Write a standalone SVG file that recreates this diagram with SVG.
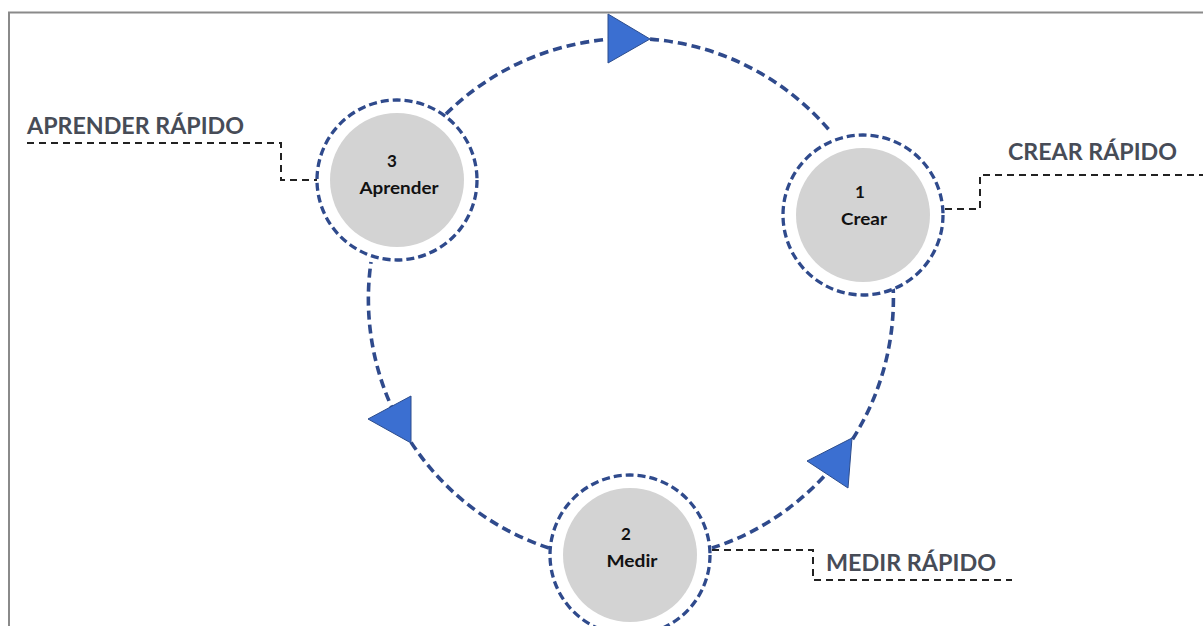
<svg xmlns="http://www.w3.org/2000/svg" width="1203" height="626" viewBox="0 0 1203 626">
  <defs>
    <style>
      .frame { fill: none; stroke: #8a8a8a; stroke-width: 2; }
      .cycle { fill: none; stroke: #2f4a8c; stroke-width: 3.6; stroke-dasharray: 9 5; }
      .ring { fill: #ffffff; stroke: #2f4a8c; stroke-width: 3.3; stroke-dasharray: 8 4; }
      .core { fill: #d3d3d3; }
      .num { font-family: Lato, "Liberation Sans", sans-serif; font-weight: 700; font-size: 17px; fill: #111111; text-anchor: middle; }
      .lead { fill: none; stroke: #222222; stroke-width: 2; stroke-dasharray: 7 5; }
      .label { font-family: Lato, "Liberation Sans", sans-serif; font-weight: 700; font-size: 23px; fill: #474c57; }
      .tri { fill: #3b6fd1; stroke: #2c4c8c; stroke-width: 1; }
    </style>
  </defs>

  <rect width="1203" height="626" fill="#ffffff"/>
  <!-- page frame -->
  <path class="frame" d="M9 626 V12.5 H1203"/>

  <!-- cycle connectors -->
  <g id="connectors">
    <path class="cycle" d="M446 114 A262 262 0 0 1 830 131"/>
    <path class="cycle" d="M893 284 A262 262 0 0 1 712 548"/>
    <path class="cycle" d="M549 548 A262 262 0 0 1 371 262"/>
    <polygon class="tri" points="608,14 650,39 608,63"/>
    <polygon class="tri" points="807,461 852,438 848,488"/>
    <polygon class="tri" points="368,419 411,396 411,443"/>
    <!-- label leaders -->
    <path class="lead" d="M27 143 H281 V180 H317"/>
    <path class="lead" d="M945 209 H980 V175 H1203"/>
    <path class="lead" d="M712 550 H813 V580 H1012"/>
  </g>

  <g id="node-aprender">
    <circle class="ring" cx="397" cy="180" r="80"/>
    <circle class="core" cx="397" cy="180" r="67"/>
    <text class="num" x="392" y="167">3</text>
    <text class="num" x="399" y="194" textLength="79" lengthAdjust="spacingAndGlyphs">Aprender</text>
  </g>

  <g id="node-crear">
    <circle class="ring" cx="863" cy="215" r="80"/>
    <circle class="core" cx="863" cy="215" r="67"/>
    <text class="num" x="860" y="198">1</text>
    <text class="num" x="864" y="225" textLength="46" lengthAdjust="spacingAndGlyphs">Crear</text>
  </g>

  <g id="node-medir">
    <circle class="ring" cx="630" cy="555" r="80"/>
    <circle class="core" cx="630" cy="555" r="67"/>
    <text class="num" x="626" y="540">2</text>
    <text class="num" x="632" y="567" textLength="51" lengthAdjust="spacingAndGlyphs">Medir</text>
  </g>

  <g id="labels">
    <text class="label" x="27" y="134" textLength="217" lengthAdjust="spacingAndGlyphs">APRENDER RÁPIDO</text>
    <text class="label" x="1008" y="160" textLength="169" lengthAdjust="spacingAndGlyphs">CREAR RÁPIDO</text>
    <text class="label" x="826" y="571" textLength="170" lengthAdjust="spacingAndGlyphs">MEDIR RÁPIDO</text>
  </g>
</svg>
